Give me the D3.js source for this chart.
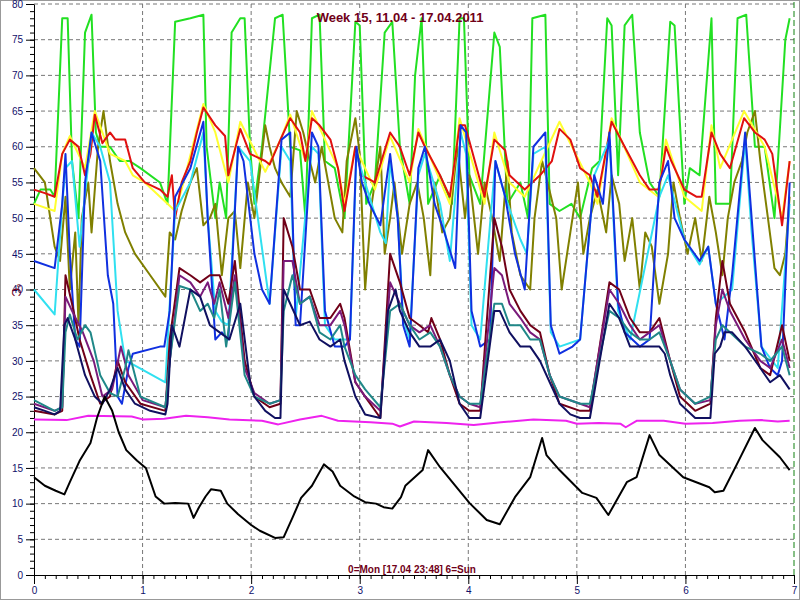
<!DOCTYPE html>
<html><head><meta charset="utf-8">
<script src="https://cdn.jsdelivr.net/npm/d3@7"></script>
<style>body{margin:0;background:#fff}svg{display:block}</style>
</head><body><div id="chart"></div>
<script>
// [day, °C]
const green = [[0,52],[.06,54],[.15,54],[.19,53],[.26,78],[.31,78],[.35,58],[.41,50],[.47,76],[.53,78.5],[.57,62],[.61,60],[.70,60],[.79,58],[.88,58],[.98,57],[1.16,55],[1.23,52],[1.30,77.5],[1.44,78],[1.56,78.5],[1.59,60],[1.67,50],[1.71,55],[1.77,50],[1.82,76],[1.90,78],[1.94,78],[1.99,60],[2.03,52],[2.10,60],[2.22,78],[2.29,78.5],[2.36,60],[2.45,59.5],[2.50,50],[2.56,78],[2.63,78.5],[2.68,58],[2.77,57],[2.86,50],[2.96,77.5],[3.00,77],[3.06,52],[3.14,55],[3.23,76],[3.30,77.5],[3.37,60],[3.46,52],[3.51,70],[3.57,78],[3.63,52],[3.74,56],[3.85,52],[3.92,78],[3.96,78],[4.01,56],[4.11,52],[4.24,76],[4.29,74],[4.36,52],[4.48,55],[4.55,50],[4.59,78],[4.71,78.5],[4.75,52],[4.84,51],[4.95,52],[5.03,50],[5.14,57],[5.21,58],[5.28,78],[5.32,77],[5.38,56],[5.44,77],[5.51,78.5],[5.58,62],[5.67,55],[5.76,53],[5.86,77.5],[5.90,77],[5.99,52],[6.04,57],[6.13,56],[6.24,78],[6.28,52],[6.41,52],[6.48,78],[6.56,78.5],[6.64,60],[6.73,60],[6.82,50],[6.92,75],[6.96,78]];
const olive = [[0,57],[.10,55],[.19,46],[.24,44],[.29,53],[.33,40],[.38,48],[.41,35],[.44,50],[.50,55],[.53,48],[.59,60],[.64,65],[.70,58],[.77,52],[.84,48],[.93,45],[1.07,42],[1.21,39],[1.25,48],[1.30,47],[1.36,51],[1.44,55],[1.50,57],[1.56,49],[1.62,50],[1.67,52],[1.73,42],[1.79,50],[1.85,51],[1.90,43],[1.97,55],[2.03,50],[2.13,63],[2.17,60],[2.22,57],[2.28,55],[2.36,53],[2.42,65],[2.48,62],[2.54,58],[2.59,55],[2.65,60],[2.71,55],[2.77,50],[2.84,48],[2.88,58],[2.96,64],[3.00,59],[3.05,40],[3.11,52],[3.19,60],[3.23,45],[3.28,50],[3.32,55],[3.39,45],[3.46,52],[3.53,55],[3.59,50],[3.65,42],[3.69,55],[3.76,48],[3.83,50],[3.90,60],[3.97,50],[4.01,56],[4.09,45],[4.15,55],[4.22,50],[4.29,44],[4.36,58],[4.40,48],[4.48,42],[4.57,40],[4.61,50],[4.68,58],[4.73,55],[4.81,50],[4.86,40],[4.94,48],[5.01,55],[5.06,45],[5.12,50],[5.19,54],[5.27,48],[5.32,56],[5.39,52],[5.44,44],[5.51,50],[5.58,40],[5.63,48],[5.69,46],[5.76,38],[5.84,45],[5.89,55],[5.95,50],[6.02,45],[6.09,50],[6.15,44],[6.22,53],[6.28,48],[6.34,42],[6.39,50],[6.45,55],[6.52,58],[6.57,62],[6.64,65],[6.69,58],[6.76,50],[6.82,43],[6.87,42],[6.92,45],[6.96,53]];
const yellow = [[0,52],[.19,51],[.26,59],[.33,61.5],[.47,57],[.56,65],[.70,59],[.84,58],[.91,56],[1.02,55],[1.23,52],[1.30,51],[1.36,54],[1.56,66],[1.67,62],[1.79,55],[1.90,63.5],[2.13,56.5],[2.27,61],[2.36,64.5],[2.50,58],[2.56,65],[2.80,57],[2.86,52],[2.96,60],[3.14,54],[3.28,61.5],[3.46,55],[3.54,62.5],[3.83,52],[3.92,64],[4.15,52],[4.24,62],[4.38,55],[4.52,53],[4.84,63.5],[5.12,55],[5.19,52],[5.32,64],[5.58,55],[5.75,53],[5.82,61],[5.99,53],[6.15,51],[6.24,63],[6.32,57],[6.54,65],[6.73,60],[6.89,50],[6.96,58]];
const red = [[0,54],[.10,53.5],[.19,53],[.26,59],[.33,61],[.41,60],[.47,56],[.52,59],[.56,64.5],[.63,60.5],[.70,62],[.75,61],[.84,61],[.91,57],[1.02,55],[1.16,54],[1.23,53],[1.27,56],[1.30,50],[1.36,55],[1.44,58],[1.50,62],[1.56,65.5],[1.67,63],[1.76,61.5],[1.79,56],[1.90,62.5],[1.99,59],[2.13,58],[2.17,57.5],[2.27,61],[2.36,64],[2.45,62],[2.50,58],[2.56,64],[2.63,63],[2.73,61],[2.80,57],[2.86,51],[2.96,60],[3.02,56],[3.14,55],[3.23,59.5],[3.28,62],[3.37,60],[3.46,56],[3.54,62],[3.60,60],[3.74,56],[3.83,53],[3.92,63],[3.97,63],[4.06,58],[4.15,53],[4.24,61],[4.34,59.5],[4.38,56],[4.52,54],[4.66,56],[4.77,58],[4.84,62.5],[4.94,61],[5.03,57],[5.12,56],[5.19,53],[5.32,63.5],[5.44,60],[5.51,58],[5.58,56],[5.67,54],[5.75,54],[5.78,56],[5.82,60],[5.87,58],[5.99,54],[6.10,53],[6.15,53],[6.24,62],[6.32,59],[6.41,57],[6.54,64],[6.64,62],[6.73,61],[6.80,59],[6.89,49],[6.96,58]];
const cyan = [[0,40],[.19,36.5],[.26,52],[.29,57],[.35,58],[.42,46],[.53,62],[.61,60],[.70,55],[.77,37],[.84,30],[.91,29.5],[1.21,27],[1.25,38],[1.30,51],[1.44,55],[1.56,62],[1.60,50],[1.67,37],[1.73,35.5],[1.79,35],[1.88,60],[1.99,58],[2.08,48],[2.17,38],[2.28,60],[2.36,58],[2.41,36],[2.56,60],[2.62,59],[2.68,35],[2.77,33],[2.91,33],[2.97,59],[3.05,55],[3.19,48],[3.24,46.5],[3.28,58],[3.35,50],[3.40,36],[3.46,33],[3.54,56],[3.60,59],[3.74,52],[3.83,44],[3.93,62],[3.98,59],[4.03,35],[4.11,33],[4.25,58],[4.34,53],[4.48,47],[4.54,45],[4.60,59],[4.71,60],[4.76,34],[4.84,32],[5.03,33],[5.16,56],[5.30,61],[5.38,37],[5.49,33],[5.76,53],[5.84,56],[5.99,47],[6.13,43.5],[6.21,46],[6.28,38],[6.43,40],[6.55,61],[6.61,48],[6.70,32],[6.85,29],[6.96,52]];
const blue = [[0,44],[.19,43],[.26,52],[.29,59],[.33,45],[.38,33],[.42,32],[.47,55],[.53,62],[.61,58],[.68,42],[.73,38],[.77,25],[.81,24],[.87,29],[.91,31],[1.16,32],[1.20,32],[1.25,37],[1.30,53],[1.44,57],[1.56,63.5],[1.60,50],[1.67,33],[1.73,34],[1.79,33],[1.88,60],[1.93,58],[2.03,45],[2.10,40],[2.17,38],[2.28,61],[2.36,62],[2.41,35],[2.45,35],[2.56,62],[2.62,60],[2.68,37],[2.77,32],[2.86,32],[2.91,33],[2.97,60],[3.02,55],[3.09,52],[3.19,49],[3.28,59],[3.35,50],[3.40,35],[3.46,32],[3.54,57],[3.60,60],[3.69,52],[3.78,48],[3.88,43],[3.93,63],[3.98,62],[4.03,37],[4.11,32],[4.20,33],[4.25,58],[4.34,53],[4.43,45],[4.52,40],[4.60,60],[4.71,62],[4.76,35],[4.84,31],[4.96,32],[5.03,33],[5.16,56],[5.24,52],[5.30,62],[5.38,38],[5.44,34],[5.58,32],[5.67,33],[5.76,55],[5.84,58],[5.90,50],[5.99,47],[6.13,44],[6.21,46],[6.28,38],[6.36,33],[6.43,42],[6.55,62],[6.61,50],[6.70,32],[6.78,29],[6.85,28],[6.89,30],[6.96,55]];
const maroon = [[0,23],[.19,22.5],[.26,23],[.29,42],[.35,38],[.42,33],[.52,28],[.61,24],[.70,25],[.77,30],[.84,27],[.98,24],[1.21,23],[1.25,33],[1.34,43],[1.44,42],[1.53,41],[1.62,42],[1.71,42],[1.79,38],[1.85,44],[1.94,30],[2.03,25],[2.17,23.5],[2.27,24],[2.30,50],[2.38,46],[2.45,40],[2.54,40],[2.63,36],[2.73,36],[2.82,38],[2.86,36],[2.96,27],[3.05,25],[3.19,22],[3.28,45],[3.37,41],[3.46,36],[3.55,35],[3.63,34],[3.66,36],[3.74,33],[3.83,28],[3.92,24],[4.01,23],[4.11,23],[4.24,50],[4.31,46],[4.38,40],[4.48,37],[4.57,35],[4.66,34],[4.75,28],[4.84,24],[5.03,23],[5.12,23],[5.30,41],[5.39,40],[5.49,36],[5.58,34],[5.67,34],[5.76,36],[5.86,30],[5.95,25],[6.09,23],[6.23,24],[6.28,36],[6.34,44],[6.41,38],[6.55,34],[6.69,29],[6.78,28],[6.89,35],[6.96,30]];
const purple = [[0,24],[.19,23],[.26,23.5],[.29,39],[.35,37],[.45,34],[.55,30],[.63,25],[.72,26],[.80,32],[.87,28],[1.0,24.5],[1.21,23.5],[1.25,30],[1.34,42],[1.44,41],[1.53,39],[1.60,41],[1.66,38],[1.71,41],[1.79,36],[1.85,42],[1.94,29],[2.03,25.5],[2.17,24],[2.27,24.5],[2.30,44],[2.38,44],[2.45,38],[2.54,39],[2.63,35],[2.73,35],[2.82,37],[2.86,35],[2.96,27],[3.05,25],[3.19,23],[3.28,41],[3.37,38],[3.46,35],[3.55,34],[3.65,35],[3.74,32],[3.83,28],[3.92,25],[4.01,24],[4.11,23.5],[4.24,43],[4.31,42],[4.38,38],[4.48,36],[4.57,34],[4.66,33],[4.75,28],[4.84,25],[5.03,24],[5.12,23.5],[5.30,40],[5.39,38],[5.49,35],[5.58,33],[5.67,34],[5.76,35],[5.86,30],[5.95,26],[6.09,24],[6.23,24.5],[6.28,35],[6.34,40],[6.41,37],[6.55,33],[6.69,30],[6.78,29],[6.89,33],[6.96,29]];
const teal = [[0,24.5],[.19,23],[.26,23.5],[.29,34],[.33,36.5],[.40,33],[.47,35],[.52,34],[.61,28],[.70,25.5],[.77,25],[.84,29],[.87,31.5],[.98,25],[1.21,23.5],[1.25,30],[1.34,40.5],[1.44,40],[1.53,37],[1.60,38],[1.66,36],[1.71,40],[1.77,32],[1.85,41],[1.94,28],[2.03,25],[2.17,24],[2.27,24.5],[2.30,37],[2.38,42],[2.45,38],[2.54,39],[2.63,34],[2.73,33],[2.82,35],[2.86,32],[2.96,28],[3.05,26],[3.19,23.5],[3.28,37],[3.37,38],[3.46,35],[3.55,33],[3.65,34],[3.74,32],[3.83,28],[3.92,25],[4.01,24],[4.11,24],[4.24,38],[4.31,38],[4.38,35],[4.48,35],[4.57,33],[4.66,33],[4.75,28],[4.84,25],[5.03,24],[5.12,24],[5.30,37],[5.39,36],[5.49,34],[5.58,33],[5.67,33],[5.76,34],[5.86,30],[5.95,26],[6.09,24],[6.23,25],[6.28,33],[6.34,35],[6.41,34],[6.55,32],[6.69,31],[6.78,30],[6.89,32],[6.96,28]];
const navy = [[0,23.5],[.10,23],[.19,22.5],[.24,23],[.28,35],[.31,36],[.38,33],[.47,28],[.56,25],[.63,24],[.70,26],[.77,29],[.84,26],[.93,24],[1.07,23],[1.21,22.5],[1.23,24],[1.27,35],[1.34,32],[1.44,40],[1.53,39],[1.62,35],[1.71,34],[1.80,33],[1.90,38],[1.99,27],[2.03,25],[2.13,23],[2.22,22],[2.27,22],[2.30,40],[2.36,38],[2.45,35],[2.54,35.5],[2.63,33],[2.73,32],[2.82,33],[2.86,30],[2.96,25],[3.05,22.5],[3.19,22],[3.26,37],[3.33,40],[3.37,37],[3.46,34],[3.55,32],[3.65,32],[3.74,33],[3.83,30],[3.92,24],[4.01,22],[4.11,22],[4.24,37],[4.29,37],[4.38,34],[4.48,32],[4.57,32],[4.66,30],[4.75,27],[4.84,24],[4.94,22.5],[5.03,22],[5.12,22],[5.30,38],[5.39,36],[5.49,32],[5.63,32],[5.76,32],[5.81,31],[5.86,28],[5.95,24],[6.09,22],[6.23,22],[6.27,31],[6.32,32],[6.36,34],[6.43,34],[6.55,32],[6.69,29],[6.78,27],[6.87,28],[6.96,26]];
const magenta = [[0,21.8],[.3,21.7],[.5,22.3],[.9,22.2],[1.0,21.8],[1.2,21.9],[1.4,22.3],[1.6,22.1],[1.8,21.8],[2.1,21.6],[2.25,21.1],[2.45,21.8],[2.65,22.3],[2.8,21.6],[3.1,21.4],[3.3,21.2],[3.37,20.8],[3.5,21.5],[3.8,21.3],[4.05,21],[4.3,21.4],[4.6,21.8],[4.9,21.6],[5.0,21.2],[5.2,21.3],[5.4,21.2],[5.45,20.7],[5.55,21.6],[5.8,21.6],[6.0,21.2],[6.25,21.3],[6.5,21.6],[6.7,21.7],[6.85,21.5],[6.96,21.6]];
const black = [[0,13.7],[.1,12.5],[.2,11.8],[.28,11.3],[.33,13],[.42,16],[.52,18.5],[.58,22],[.65,25],[.72,23],[.78,20],[.85,17.5],[.95,16],[1.03,15],[1.12,11],[1.2,10],[1.3,10.1],[1.42,10],[1.47,8],[1.52,9.5],[1.58,11],[1.63,12],[1.72,11.8],[1.78,10],[1.88,8.5],[2.0,7],[2.08,6.2],[2.22,5.2],[2.3,5.3],[2.38,8],[2.46,10.8],[2.56,12.5],[2.67,15.5],[2.75,14.5],[2.82,12.5],[2.95,11],[3.05,10.2],[3.15,10],[3.22,9.5],[3.3,9.3],[3.38,10.9],[3.42,12.5],[3.58,14.7],[3.63,17.5],[3.74,15.1],[4.01,10.1],[4.17,7.7],[4.29,7.1],[4.43,10.9],[4.57,13.7],[4.68,19.2],[4.72,16.8],[4.84,14.7],[5.05,11.5],[5.18,10.8],[5.29,8.4],[5.46,13],[5.55,13.7],[5.67,19.6],[5.76,16.8],[5.98,13.7],[6.22,12.3],[6.27,11.6],[6.35,11.8],[6.47,15.4],[6.64,20.6],[6.71,18.9],[6.87,16.5],[6.96,14.7]];

const series = [
  {data: green, color: '#22e022'}, {data: olive, color: '#808000'},
  {data: yellow, color: '#ffff30'}, {data: red, color: '#e01010'},
  {data: cyan, color: '#30e0f0'}, {data: blue, color: '#1030e0'},
  {data: maroon, color: '#700018'}, {data: purple, color: '#7a1a7a'},
  {data: teal, color: '#208888'}, {data: navy, color: '#101060'},
  {data: magenta, color: '#ee22ee'}, {data: black, color: '#000000'}
];

const W = 800, H = 600;
const m = {left: 34, right: 6, top: 4, bottom: 25};
const svg = d3.select('#chart').append('svg').attr('width', W).attr('height', H);
svg.append('rect').attr('x', 0.5).attr('y', 0.5).attr('width', W - 1).attr('height', H - 1)
  .attr('fill', '#fff').attr('stroke', '#999');

const x = d3.scaleLinear().domain([0, 7]).range([m.left, W - m.right]);
const y = d3.scaleLinear().domain([0, 80]).range([H - m.bottom, m.top]);

// grid
const g = svg.append('g');
g.selectAll('.gx').data(d3.range(1, 7)).enter().append('line')
  .attr('x1', d => x(d)).attr('x2', d => x(d)).attr('y1', y(0)).attr('y2', y(80))
  .attr('stroke', '#777').attr('stroke-dasharray', '4,3');
g.selectAll('.gy').data(d3.range(5, 81, 5)).enter().append('line')
  .attr('x1', x(0)).attr('x2', x(7)).attr('y1', d => y(d)).attr('y2', d => y(d))
  .attr('stroke', '#777').attr('stroke-dasharray', '4,3');
g.append('line').attr('x1', x(7)).attr('x2', x(7)).attr('y1', y(0)).attr('y2', 0)
  .attr('stroke', '#108010').attr('stroke-dasharray', '6,3');

// axes
const yAxis = d3.axisLeft(y).tickValues(d3.range(0, 81, 5)).tickSize(8).tickSizeOuter(0);
const ya = svg.append('g').attr('transform', `translate(${x(0)},0)`).call(yAxis);
ya.selectAll('text').attr('font-size', 10).attr('fill', '#10106a').attr('font-family', 'Arial, sans-serif');
svg.append('g').attr('transform', `translate(${x(0)},0)`)
  .call(d3.axisLeft(y).tickValues(d3.range(0, 81, 1)).tickSize(4).tickFormat(''))
  .select('.domain').remove();
const xa = svg.append('g').attr('transform', `translate(0,${y(0)})`)
  .call(d3.axisBottom(x).ticks(7).tickSize(9).tickSizeOuter(0));
xa.selectAll('text').attr('font-size', 10).attr('fill', '#10106a').attr('font-family', 'Arial, sans-serif');
svg.append('g').attr('transform', `translate(0,${y(0)})`)
  .call(d3.axisBottom(x).tickValues(d3.range(0, 70).map(d => d / 10)).tickSize(4).tickFormat(''))
  .select('.domain').remove();
svg.selectAll('.domain, .tick line').attr('stroke', '#000');

// lines
const line = d3.line().x(d => x(d[0])).y(d => y(d[1]));
series.forEach(s => {
  svg.append('path').datum(s.data).attr('d', line)
    .attr('fill', 'none').attr('stroke', s.color).attr('stroke-width', 2)
    .attr('stroke-linejoin', 'round');
});

// texts
svg.append('text').attr('x', 400).attr('y', 22).attr('text-anchor', 'middle')
  .attr('font-family', 'Arial, sans-serif').attr('font-weight', 'bold').attr('font-size', 13)
  .attr('fill', '#700018').text('Week 15, 11.04 - 17.04.2011');
svg.append('text').attr('x', 412).attr('y', 573).attr('text-anchor', 'middle')
  .attr('font-family', 'Arial, sans-serif').attr('font-weight', 'bold').attr('font-size', 10)
  .attr('fill', '#700018').text('0=Mon [17.04 23:48] 6=Sun');
svg.append('text').attr('transform', 'translate(12,290) rotate(90)').attr('text-anchor', 'middle')
  .attr('font-family', 'Arial, sans-serif').attr('font-size', 12)
  .attr('fill', '#700018').text('°C');
</script></body></html>
